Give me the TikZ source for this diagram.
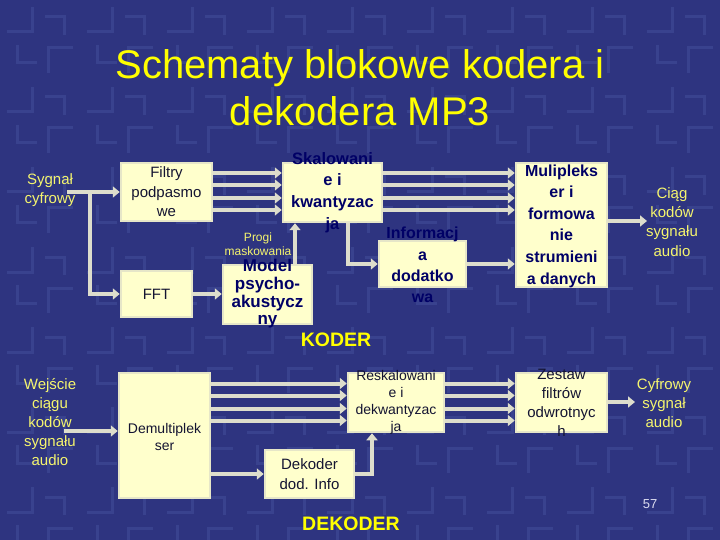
\documentclass[tikz,border=0pt]{standalone}
\usepackage{fontspec}
\setmainfont{Liberation Sans}
\usetikzlibrary{arrows.meta}
\definecolor{tlo}{RGB}{46,52,128}
\definecolor{wzor}{RGB}{57,66,142}
\definecolor{kremowy}{RGB}{255,255,204}
\definecolor{ramka}{RGB}{230,230,200}
\definecolor{strzalka}{RGB}{221,221,204}
\definecolor{granat}{RGB}{0,0,102}
\definecolor{ciemny}{RGB}{20,20,50}
\definecolor{zolty}{RGB}{255,255,0}
\definecolor{jasnyzolty}{RGB}{245,245,110}
\definecolor{szary}{RGB}{220,220,240}
\tikzset{
  blok/.style={draw=ramka,fill=kremowy,line width=2.5pt,rectangle,inner sep=0pt},
  pstr/.style={draw=strzalka,line width=4pt,-{Triangle[length=7pt,width=11pt]}},
  wzorek/.style={draw=wzor,line width=3pt},
  gruby/.style={text=granat,font=\bfseries\fontsize{16.5}{21.6}\selectfont,align=center,inner sep=0pt},
  zwyk/.style={text=ciemny,font=\fontsize{15}{19.5}\selectfont,align=center,inner sep=0pt},
  opis/.style={text=jasnyzolty,font=\fontsize{15}{19.2}\selectfont,align=center,inner sep=0pt},
  napis/.style={text=zolty,font=\bfseries\fontsize{19.5}{22}\selectfont,inner sep=0pt}
}
\begin{document}
\begin{tikzpicture}[x=1pt,y=-1pt]
            \useasboundingbox (0,0) rectangle (720,540);
            \clip (0,0) rectangle (720,540);
            \fill[tlo] (0,0) rectangle (720,540);
            % tlo w kratke
            \foreach \i in {0,...,8}
              \foreach \j in {0,...,6}
              {
                \begin{scope}[shift={(80*\i,80*\j)}]
                  \draw[wzorek] (7,32) -- (32,32) -- (32,7);
                  \draw[wzorek] (45,17) -- (64,17) -- (64,35);
                  \draw[wzorek] (17,45) -- (17,63) -- (37,63);
                  \draw[wzorek] (73,48) -- (48,48) -- (48,73);
                \end{scope}
              }
            \node (tyt) at (360,88)[text=zolty,font=\fontsize{40}{47}\selectfont,align=center]{Schematy blokowe kodera i\\dekodera MP3};

            % koder
            \node (n1) at (166.5,192)[blok,minimum width=91pt,minimum height=58pt]{};
            \node (n2) at (156.5,294)[blok,minimum width=71pt,minimum height=46pt]{};
            \node (n3) at (267.5,294.5)[blok,minimum width=89pt,minimum height=59pt]{};
            \node (n4) at (332.5,192.5)[blok,minimum width=99pt,minimum height=59pt]{};
            \node (n5) at (422.5,264)[blok,minimum width=87pt,minimum height=46pt]{};
            \node (n6) at (561.5,225)[blok,minimum width=91pt,minimum height=124pt]{};
            \coordinate (c1) at (67,192);
            \coordinate (c2) at (90,192);
            \coordinate (c3) at (647,221);
            \draw [pstr] (c1) -- (n1);
            \draw [pstr] (c2) |- (n2);
            \foreach \d in {19,7,-6,-18}
            {
              \draw [pstr] ([yshift=\d pt]n1.east) -- ([yshift=\d pt]n1.east -| n4.west);
              \draw [pstr] ([yshift=\d pt]n1.east -| n4.east) -- ([yshift=\d pt]n1.east -| n6.west);
            }
            \draw [pstr] (n2.east) -- (n2.east -| n3.west);
            \draw [pstr] ([xshift=27.5pt]n3.north) -- ([xshift=27.5pt]n3.north |- n4.south);
            \draw [pstr] ([xshift=15.5pt]n4.south) |- (n5.west);
            \draw [pstr] (n5.east) -- (n5.east -| n6.west);
            \draw [pstr] (n6.east |- c3) -- (c3);

            % dekoder
            \node (n7) at (164.5,435.5)[blok,minimum width=91pt,minimum height=125pt]{};
            \node (n8) at (396,402.5)[blok,minimum width=96pt,minimum height=59pt]{};
            \node (n9) at (309.5,474)[blok,minimum width=89pt,minimum height=48pt]{};
            \node (n10) at (561.5,402.5)[blok,minimum width=91pt,minimum height=59pt]{};
            \coordinate (c4) at (64,431);
            \coordinate (c5) at (635,402);
            \draw [pstr] (c4) -- (c4 -| n7.west);
            \foreach \d in {19,7,-6,-18}
            {
              \draw [pstr] ([yshift=\d pt]n8.west -| n7.east) -- ([yshift=\d pt]n8.west);
              \draw [pstr] ([yshift=\d pt]n8.east) -- ([yshift=\d pt]n8.east -| n10.west);
            }
            \draw [pstr] (n9.west -| n7.east) -- (n9.west);
            \draw [pstr] (n9.east) -| ([xshift=-24pt]n8.south);
            \draw [pstr] (n10.east |- c5) -- (c5);

            % napisy w blokach
            \node (t1) at (n1)[zwyk]{Filtry\\podpasmo\\we};
            \node (t2) at (n2)[zwyk]{FFT};
            \node (t3) at (267.5,294)[gruby,font=\bfseries\fontsize{17}{17.7}\selectfont]{Model\\psycho-\\akustycz\\ny};
            \node (t4) at (n4)[gruby]{Skalowani\\e i\\kwantyzac\\ja};
            \node (t5) at (422.5,265)[gruby,font=\bfseries\fontsize{16}{21.3}\selectfont]{Informacj\\a\\dodatko\\wa};
            \node (t6) at (561.5,226)[gruby,font=\bfseries\fontsize{16}{21.6}\selectfont]{Mulipleks\\er i\\formowa\\nie\\strumieni\\a danych};
            \node (t7) at (164.5,436.5)[zwyk,font=\fontsize{14}{17}\selectfont]{Demultiplek\\ser};
            \node (t8) at (n8)[zwyk,font=\fontsize{14}{17}\selectfont]{Reskalowani\\e i\\dekwantyzac\\ja};
            \node (t9) at (n9)[zwyk]{Dekoder\\dod. Info};
            \node (t10) at (561.5,403)[zwyk,font=\fontsize{15}{19}\selectfont]{Zestaw\\filtrów\\odwrotnyc\\h};

            % opisy
            \node (l1) at (50,190)[opis]{Sygnał\\cyfrowy};
            \node (l2) at (672,222)[opis]{Ciąg\\kodów\\sygnału\\audio};
            \node (l3) at (258,244.5)[opis,font=\fontsize{12}{14}\selectfont]{Progi\\maskowania};
            \node (l4) at (336,340)[napis]{KODER};
            \node (l5) at (50,422)[opis]{Wejście\\ciągu\\kodów\\sygnału\\audio};
            \node (l6) at (664,403)[opis]{Cyfrowy\\sygnał\\audio};
            \node (l7) at (650,504)[text=szary,font=\fontsize{13}{15}\selectfont,inner sep=0pt]{57};
            \node (l8) at (351,524)[napis]{DEKODER};
        \end{tikzpicture}
\end{document}
